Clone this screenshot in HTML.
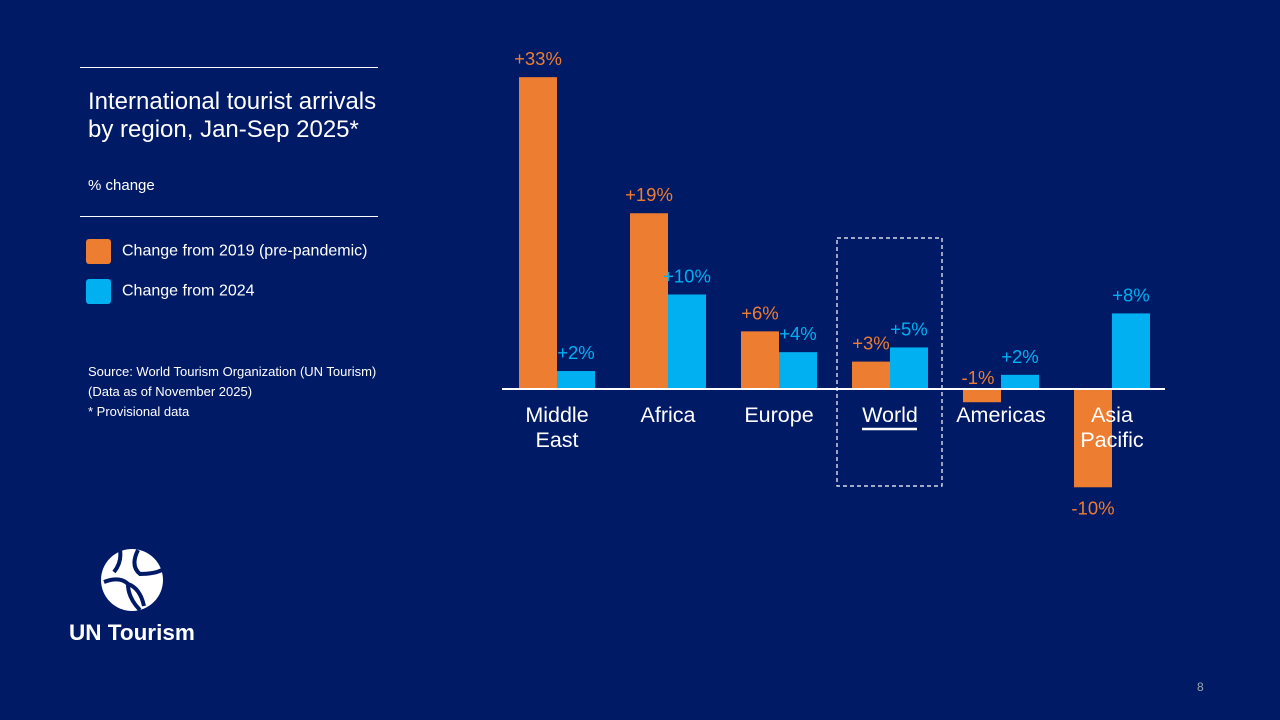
<!DOCTYPE html>
<html><head><meta charset="utf-8"><style>
body{margin:0;width:1280px;height:720px;background:#011a66;font-family:"Liberation Sans",sans-serif;color:#fff;position:relative;overflow:hidden}
.abs{position:absolute}
</style></head><body>
<div class="abs" style="left:80px;top:67px;width:298px;height:1px;background:#fff"></div>
<div class="abs" style="left:88px;top:88px;font-size:24px;line-height:28px">International tourist arrivals<br>by region, Jan-Sep 2025*</div>
<div class="abs" style="left:88px;top:177px;font-size:15px">% change</div>
<div class="abs" style="left:80px;top:216px;width:298px;height:1px;background:#fff"></div>
<div class="abs" style="left:86px;top:239px;font-size:16px"><span style="display:inline-block;width:25px;height:25px;background:#ed7d31;border-radius:3px;vertical-align:middle;margin-right:11px"></span>Change from 2019 (pre-pandemic)</div>
<div class="abs" style="left:86px;top:279px;font-size:16px"><span style="display:inline-block;width:25px;height:25px;background:#00b0f0;border-radius:3px;vertical-align:middle;margin-right:11px"></span>Change from 2024</div>
<div class="abs" style="left:88px;top:362px;font-size:13px;line-height:20px">Source: World Tourism Organization (UN Tourism)<br>(Data as of November 2025)<br>* Provisional data</div>
<svg class="abs" style="left:100px;top:548px" width="64" height="64" viewBox="0 0 64 64">
<circle cx="32" cy="32" r="31" fill="#fff"/>
<path d="M20 2 Q22 14 14 24 M38 2 Q30 18 40 26 Q54 26 62 22 M4 34 Q20 28 28 36 Q28 50 40 62 M28 36 Q40 40 44 58" stroke="#011a66" stroke-width="4" fill="none"/>
</svg>
<div class="abs" style="left:69px;top:620px;font-size:22.5px;font-weight:bold">UN Tourism</div>
<div class="abs" style="left:1197px;top:680px;font-size:12px;color:#9aa">8</div>
<svg id="chart" class="abs" style="left:0;top:0" width="1280" height="720"></svg>
<script>
const categories=["Middle\nEast","Africa","Europe","World","Americas","Asia\nPacific"];
const v2019=[33,18.6,6.1,2.9,-1.4,-10.4];
const v2024=[1.9,10,3.9,4.4,1.5,8];
const l2019=["+33%","+19%","+6%","+3%","-1%","-10%"];
const l2024=["+2%","+10%","+4%","+5%","+2%","+8%"];
const svg=document.getElementById('chart');
const NS='http://www.w3.org/2000/svg';
const base=389,scale=9.45,x0=519,step=111,bw=38;
const y=v=>base-v*scale;
function mk(t,a){const e=document.createElementNS(NS,t);for(const k in a)e.setAttribute(k,a[k]);svg.appendChild(e);return e;}
categories.forEach((c,i)=>{
 const gx=x0+i*step;
 [[v2019,l2019,'#ed7d31',0],[v2024,l2024,'#00b0f0',bw]].forEach(([vals,labs,col,off])=>{
  const v=vals[i];
  const r=mk('rect',{x:gx+off,y:Math.min(y(v),base),width:bw,height:Math.abs(y(v)-base),fill:col});
  
  
  let ly,lx=gx+off+bw/2;
  if(v>=0) ly=y(v)-12;
  else if(v>-3){ ly=base-5; lx-=4; }
  else ly=y(v)+27;
  const t=mk('text',{x:lx,y:ly,'text-anchor':'middle','font-size':18.5,fill:col});
  t.textContent=labs[i];
  
  
 });
 c.split('\n').forEach((ln,j)=>{
  const t=mk('text',{x:gx+bw,y:422+j*25,'text-anchor':'middle','font-size':21.5,fill:'#fff'});
  t.textContent=ln;
  
  
 });
});
const ax=mk('line',{x1:502,x2:1165,y1:base,y2:base,stroke:'#fff','stroke-width':2});


const hb=mk('rect',{x:837,y:238,width:105,height:248,fill:'none',stroke:'#fff','stroke-width':1.2,'stroke-dasharray':'4 3'});


const ul=mk('line',{x1:862,x2:917,y1:429,y2:429,stroke:'#fff','stroke-width':2.5});


</script>
</body></html>
